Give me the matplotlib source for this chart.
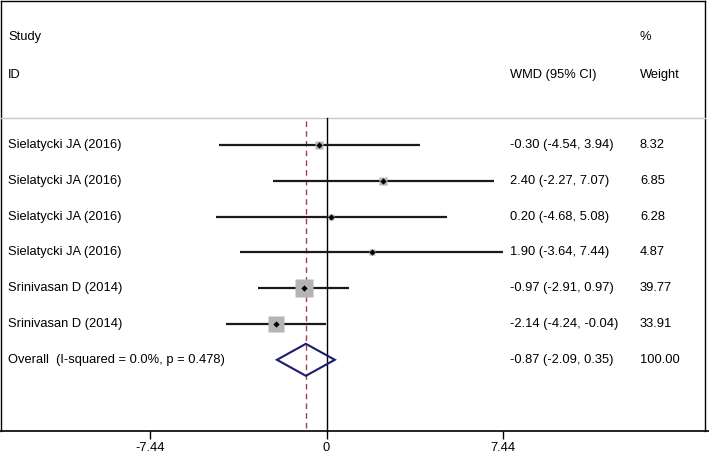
import matplotlib
matplotlib.use("Agg")
import matplotlib.pyplot as plt
import numpy as np

studies = ["Sielatycki JA (2016)", "Sielatycki JA (2016)", "Sielatycki JA (2016)",
           "Sielatycki JA (2016)", "Srinivasan D (2014)", "Srinivasan D (2014)"]
wmd = [-0.30, 2.40, 0.20, 1.90, -0.97, -2.14]
lo = [-4.54, -2.27, -4.68, -3.64, -2.91, -4.24]
hi = [3.94, 7.07, 5.08, 7.44, 0.97, -0.04]
weights = [8.32, 6.85, 6.28, 4.87, 39.77, 33.91]
overall_label = "Overall  (I-squared = 0.0%, p = 0.478)"
overall = -0.87
overall_lo = -2.09
overall_hi = 0.35
overall_weight = 100.00
xticks = [-7.44, 0, 7.44]
xticklabels = ["-7.44", "0", "7.44"]

plt.rcParams['font.family'] = ['Liberation Sans', 'DejaVu Sans']
FS = 9.3
W, H = 709, 455
fig = plt.figure(figsize=(W / 100, H / 100), dpi=100)
ax = fig.add_axes([0, 0, 1, 1])

# pixel geometry -> data limits
x0px, ppu = 326.5, 23.7
row0px, rowstep = 145.0, 35.8
ax.set_xlim((0 - x0px) / ppu, (W - x0px) / ppu)
ax.set_ylim((H - row0px) / rowstep, (0 - row0px) / rowstep)

def ypx(p):
    return (p - row0px) / rowstep
def xpx(p):
    return (p - x0px) / ppu

AXIS_Y = 431
for s in ['left', 'right', 'top']:
    ax.spines[s].set_visible(False)
ax.spines['bottom'].set_position(('data', ypx(AXIS_Y)))
ax.spines['bottom'].set_linewidth(1.2)
ax.set_yticks([])
ax.set_xticks(xticks)
ax.set_xticklabels(xticklabels, fontsize=FS)
ax.tick_params(axis='x', direction='out', length=6, width=1.0, pad=2)
ax.patch.set_visible(False)

# frame lines
ax.plot([xpx(1), xpx(1)], [ypx(1), ypx(AXIS_Y)], color='black', lw=1.0, clip_on=False)
ax.plot([xpx(1), xpx(705)], [ypx(1), ypx(1)], color='black', lw=1.0, clip_on=False)
ax.plot([xpx(705), xpx(705)], [ypx(1), ypx(AXIS_Y)], color='black', lw=1.0, clip_on=False)
ax.plot([xpx(1), xpx(705)], [ypx(117.5), ypx(117.5)], color='#c8c8c8', lw=1.0)

# zero line and overall dashed line
ax.plot([0, 0], [ypx(117.5), ypx(AXIS_Y)], color='black', lw=1.0)
ax.plot([overall, overall], [ypx(121), ypx(AXIS_Y)], color='#a0404a', lw=1.0,
        ls=(0, (4, 3)))

rows = np.arange(len(studies))
for i in rows:
    ax.plot([lo[i], hi[i]], [i, i], color='#1a1a1a', lw=1.6, solid_capstyle='butt')
    side = 2.7 * np.sqrt(weights[i]) * 0.72
    ax.plot(wmd[i], i, marker='s', ms=side, color='#b4b4b4', mec='none', zorder=3)
    ax.plot(wmd[i], i, marker='D', ms=3.2, color='black', mec='none', zorder=4)
    ax.text(xpx(8), i, studies[i], fontsize=FS, va='center', ha='left')
    ax.text(xpx(510), i, f"{wmd[i]:.2f} ({lo[i]:.2f}, {hi[i]:.2f})", fontsize=FS,
            va='center', ha='left')
    ax.text(xpx(640), i, f"{weights[i]:.2f}", fontsize=FS, va='center', ha='left')

yo = len(studies)
half = 16 / rowstep
ax.fill([overall_lo, overall, overall_hi, overall, overall_lo],
        [yo, yo - half, yo, yo + half, yo], facecolor='none', edgecolor='#1c1c6a',
        lw=1.5, zorder=5)
ax.text(xpx(8), yo, overall_label, fontsize=FS, va='center', ha='left')
ax.text(xpx(510), yo, f"{overall:.2f} ({overall_lo:.2f}, {overall_hi:.2f})", fontsize=FS,
        va='center', ha='left')
ax.text(xpx(640), yo, f"{overall_weight:.2f}", fontsize=FS, va='center', ha='left')

# header
ax.text(xpx(8), ypx(37), "Study", fontsize=FS, va='center', ha='left')
ax.text(xpx(8), ypx(75), "ID", fontsize=FS, va='center', ha='left')
ax.text(xpx(510), ypx(75), "WMD (95% CI)", fontsize=FS, va='center', ha='left')
ax.text(xpx(640), ypx(37), "%", fontsize=FS, va='center', ha='left')
ax.text(xpx(640), ypx(75), "Weight", fontsize=FS, va='center', ha='left')

fig.savefig("out.png", dpi=100)
